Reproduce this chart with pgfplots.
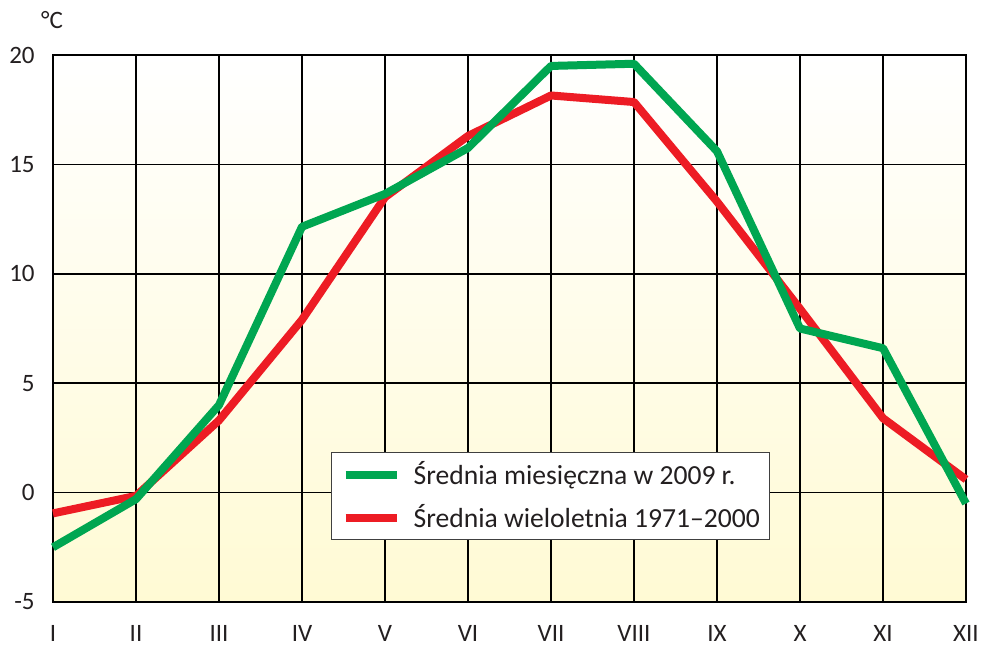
\documentclass[border=0pt]{standalone}
\usepackage{fontspec}
\setmainfont{Carlito}
\usepackage{pgfplots}
\pgfplotsset{compat=1.18}
\definecolor{gr}{RGB}{0,166,81}
\definecolor{rd}{RGB}{237,28,36}
\definecolor{bgy}{RGB}{255,250,212}
\definecolor{txt}{RGB}{35,31,32}
\begin{document}
\begin{tikzpicture}
\useasboundingbox (-26.5pt,-23.5pt) rectangle (466.5pt,301pt);
\begin{axis}[
  at={(0,0)}, anchor=south west,
  scale only axis, width=456.5pt, height=273.5pt,
  xmin=1, xmax=12, ymin=-5, ymax=20,
  xtick={1,...,12},
  xticklabels={I,II,III,IV,V,VI,VII,VIII,IX,X,XI,XII},
  ytick={-5,0,5,10,15,20},
  yticklabels={-5,0,5,10,15,20},
  grid=major, grid style={black, line width=0.75pt},
  axis line style={black, line width=0.75pt},
  major tick length=0pt,
  tick label style={font=\fontsize{12.5}{15}\selectfont, inner sep=0pt, text=txt},
  xticklabel style={anchor=north, yshift=-11.5pt},
  yticklabel style={anchor=east, xshift=-9pt},
  axis background/.style={top color=white, bottom color=bgy},
  clip=false,
  legend style={at={(rel axis cs:0.3045,0.274)}, anchor=north west,
    draw=black!75, line width=0.6pt, fill=white,
    font=\fontsize{13.8}{16.5}\selectfont, text=txt,
    inner xsep=5pt, inner ysep=4.5pt, row sep=8.5pt,
    nodes={inner sep=0pt}},
  legend cell align=left,
  legend image code/.code={\draw[#1, line width=4pt] (0pt,0pt) -- (25.5pt,0pt);
    \path[draw=none, fill=none] (25.5pt,0pt) -- (34pt,0pt);},
]
\addplot[rd, line width=4pt, line join=round, forget plot] coordinates {
 (1,-0.95) (2,-0.15) (3,3.3) (4,7.9) (5,13.5) (6,16.3) (7,18.15) (8,17.85) (9,13.3) (10,8.4) (11,3.4) (12,0.6)};
\addplot[gr, line width=4pt, line join=round] coordinates {
 (1,-2.5) (2,-0.3) (3,4.0) (4,12.15) (5,13.65) (6,15.75) (7,19.5) (8,19.6) (9,15.6) (10,7.5) (11,6.6) (12,-0.5)};
\addlegendentry{Średnia miesięczna w 2009 r.}
\addlegendimage{rd, line width=4pt}
\addlegendentry{Średnia wieloletnia 1971–2000}
\node[font=\fontsize{12.5}{15}\selectfont, text=txt] at (rel axis cs:0,1) [xshift=-0.5pt, yshift=17.5pt] {°C};
\end{axis}
\end{tikzpicture}
\end{document}
